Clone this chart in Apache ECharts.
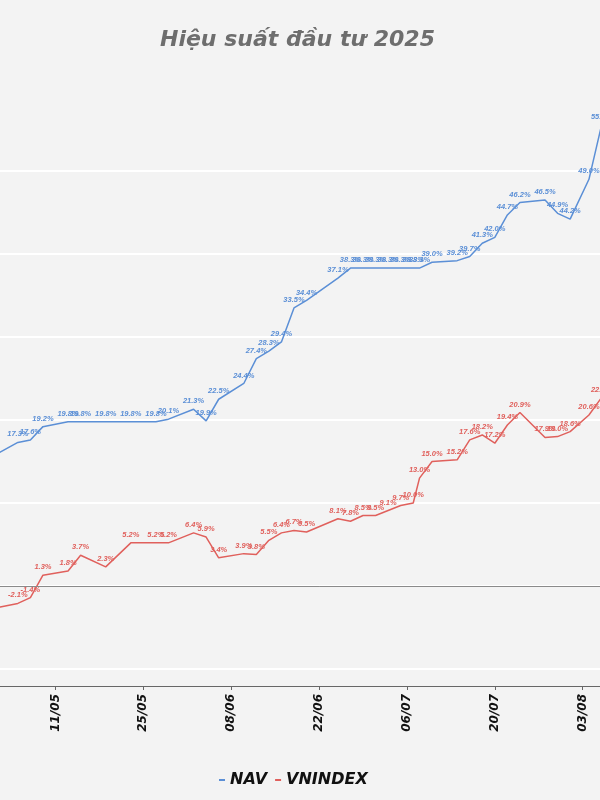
<!DOCTYPE html>
<html><head><meta charset="utf-8">
<script src="https://cdn.jsdelivr.net/npm/echarts@6/dist/echarts.min.js"></script>
<style>html,body{margin:0;padding:0;background:#f3f3f3;overflow:hidden;width:600px;height:800px}#c{position:absolute;left:-40px;top:0;width:720px;height:800px}</style>
</head><body><div id="c"></div><script>
const dates = ['2025-04-29','2025-05-05','2025-05-07','2025-05-09','2025-05-13','2025-05-15','2025-05-19','2025-05-23','2025-05-27','2025-05-29',
  '2025-06-02','2025-06-04','2025-06-06','2025-06-10','2025-06-12','2025-06-14','2025-06-16','2025-06-18','2025-06-20','2025-06-25',
  '2025-06-27','2025-06-29','2025-07-01','2025-07-03','2025-07-05','2025-07-07','2025-07-08','2025-07-10','2025-07-14','2025-07-16',
  '2025-07-18','2025-07-20','2025-07-22','2025-07-24','2025-07-28','2025-07-30','2025-08-01','2025-08-04','2025-08-06'];
const navValues = [14.8,17.3,17.6,19.2,19.8,19.8,19.8,19.8,19.8,20.1,
  21.3,19.9,22.5,24.4,27.4,28.3,29.4,33.5,34.4,37.1,
  38.3,38.3,38.3,38.3,38.3,38.3,38.3,39.0,39.2,39.7,
  41.3,42.0,44.7,46.2,46.5,44.9,44.2,49.0,55.5];
const vnindexValues = [-3.0,-2.1,-1.4,1.3,1.8,3.7,2.3,5.2,5.2,5.2,
  6.4,5.9,3.4,3.9,3.8,5.5,6.4,6.7,6.5,8.1,
  7.8,8.5,8.5,9.1,9.7,10.0,13.0,15.0,15.2,17.6,
  18.2,17.2,19.4,20.9,17.9,18.0,18.6,20.6,22.7];
const seriesNames = ['NAV','VNINDEX'];
const titleText = 'Hiệu suất đầu tư 2025';
const axisStartDate = '2025-04-27';
const axisEndDays = 112;
const tickStepDays = 14;
const yMin = -10, yMax = 60, yStep = 10;

function dayIndex(s){
  const p = s.split('-').map(Number), q = axisStartDate.split('-').map(Number);
  return Math.round((Date.UTC(p[0],p[1]-1,p[2]) - Date.UTC(q[0],q[1]-1,q[2]))/86400000);
}
function dayLabel(d){
  const q = axisStartDate.split('-').map(Number);
  const t = new Date(Date.UTC(q[0],q[1]-1,q[2]) + d*86400000);
  return String(t.getUTCDate()).padStart(2,'0') + '/' + String(t.getUTCMonth()+1).padStart(2,'0');
}
const xs = dates.map(dayIndex);
const navData = xs.map((x,i)=>[x,navValues[i]]);
const vniData = xs.map((x,i)=>[x,vnindexValues[i]]);

const shift = 40; // container is shifted 40px to the left of the viewport
const pxPerDay = 6.276;
const gridLeft = 55.5 - tickStepDays*pxPerDay + shift;
const colors = ['#5b8fd6','#e0605c'];
const labelStyle = (c)=>({show:true,position:'top',distance:4,color:c,fontSize:7.5,fontWeight:'bold',fontStyle:'italic',fontFamily:'Liberation Sans',
  formatter:(p)=>p.value[1].toFixed(1)+'%'});

const chart = echarts.init(document.getElementById('c'),null,{renderer:'canvas'});
chart.setOption({
  backgroundColor:'#f3f3f3',
  animation:false,
  title:{text:titleText,left:155+shift,top:24,textStyle:{color:'#6e6e6e',fontSize:22,fontWeight:'bold',fontStyle:'italic',fontFamily:'DejaVu Sans'}},
  legend:{data:seriesNames,left:214+shift,top:767,icon:'rect',itemWidth:6,itemHeight:2,itemGap:8,
    textStyle:{color:'#111',fontSize:16,fontWeight:'bold',fontStyle:'italic',fontFamily:'DejaVu Sans'}},
  grid:{left:gridLeft,width:axisEndDays*pxPerDay,top:88,bottom:131,containLabel:false,outerBoundsMode:'none'},
  xAxis:{type:'value',min:0,max:axisEndDays,interval:tickStepDays,offset:17,
    axisLine:{show:true,onZero:false,lineStyle:{color:'#666',width:1}},
    axisTick:{show:true,length:4,lineStyle:{color:'#666'}},
    splitLine:{show:false},
    axisLabel:{rotate:90,margin:8,color:'#111',fontSize:12,fontWeight:'bold',fontStyle:'italic',fontFamily:'DejaVu Sans',formatter:dayLabel}},
  yAxis:{type:'value',min:yMin,max:yMax,interval:yStep,
    axisLine:{show:false},axisTick:{show:false},axisLabel:{show:false},
    splitLine:{show:true,showMinLine:true,showMaxLine:false,lineStyle:{color:'#ffffff',width:2}}},
  series:[
    {name:seriesNames[0],type:'line',data:navData,symbol:'circle',symbolSize:0,color:colors[0],
     lineStyle:{color:colors[0],width:1.5},label:labelStyle(colors[0]),
     markLine:{silent:true,symbol:'none',label:{show:false},lineStyle:{color:'#8a8a8a',width:1,type:'solid'},data:[{yAxis:0}]}},
    {name:seriesNames[1],type:'line',data:vniData,symbol:'circle',symbolSize:0,color:colors[1],
     lineStyle:{color:colors[1],width:1.5},label:labelStyle(colors[1])}
  ]
});
</script></body></html>
